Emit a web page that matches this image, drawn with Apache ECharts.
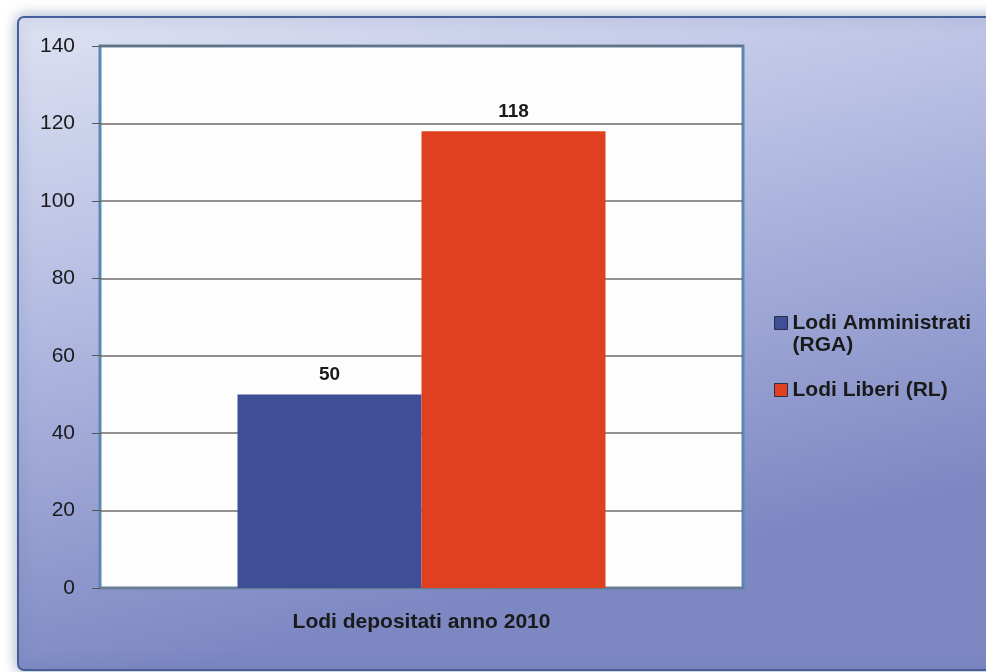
<!DOCTYPE html>
<html>
<head>
<meta charset="utf-8">
<script src="https://cdn.jsdelivr.net/npm/echarts@6/dist/echarts.min.js"></script>
<style>
  html, body { margin: 0; padding: 0; background: #fff; }
  #main { width: 986px; height: 672px; }
</style>
</head>
<body>
<div id="main"></div>
<script>
var categories = ["Lodi depositati anno 2010"];
var seriesNames = ["Lodi Amministrati (RGA)", "Lodi Liberi (RL)"];
var rgaValues = [50];
var rlValues = [118];

var chart = echarts.init(document.getElementById("main"));

var font = "Liberation Sans, Arial";

chart.setOption({
  animation: false,
  graphic: [
    {
      type: "rect",
      z: -10,
      shape: { x: 18, y: 17, width: 990, height: 653, r: 6 },
      style: {
        fill: new echarts.graphic.LinearGradient(0, 0, 0.15, 1, [
          { offset: 0, color: "#dfe2f3" },
          { offset: 0.45, color: "#b3bbe1" },
          { offset: 1, color: "#7d88c3" }
        ]),
        stroke: "#465f98",
        lineWidth: 2,
        shadowBlur: 14,
        shadowColor: "rgba(60,90,140,0.5)"
      }
    }
  ],
  legend: {
    orient: "vertical",
    left: 774,
    top: 290,
    padding: 0,
    itemWidth: 13,
    itemHeight: 13,
    itemGap: 23,
    icon: "rect",
    itemStyle: { borderColor: "#2b2d45", borderWidth: 1 },
    data: seriesNames,
    formatter: function (name) {
      // blank first line so the marker sits next to the first text line
      return name.indexOf(" (RGA)") > 0 ? "\u00a0\n" + name.replace(" (RGA)", "\n(RGA)") : name;
    },
    textStyle: {
      fontFamily: font,
      fontWeight: "bold",
      fontSize: 21,
      color: "#1a1a1a",
      lineHeight: 22
    }
  },
  grid: {
    left: 100,
    top: 46,
    right: 243,
    bottom: 84,
    show: true,
    backgroundColor: "#fdfdfd",
    borderColor: "#5b87b3",
    borderWidth: 3
  },
  xAxis: {
    type: "category",
    data: categories,
    axisLine: { show: true, lineStyle: { color: "#6f7a8a", width: 2 } },
    axisTick: { show: false },
    axisLabel: {
      margin: 24,
      fontFamily: font,
      fontWeight: "bold",
      fontSize: 21,
      color: "#1a1a1a"
    }
  },
  yAxis: {
    type: "value",
    min: 0,
    max: 140,
    interval: 20,
    axisLine: { show: false },
    axisTick: { show: true, length: 8, lineStyle: { color: "#555" } },
    splitLine: { lineStyle: { color: "#6e6a6a", width: 1.5 } },
    axisLabel: {
      margin: 25,
      fontFamily: font,
      fontSize: 21,
      color: "#1a1a1a"
    }
  },
  series: [
    {
      name: seriesNames[0],
      type: "bar",
      data: rgaValues,
      barWidth: 184,
      barGap: "0%",
      itemStyle: { color: "#3e4f98" },
      label: {
        show: true,
        position: "top",
        distance: 10,
        fontFamily: font,
        fontWeight: "bold",
        fontSize: 19,
        color: "#1a1a1a"
      }
    },
    {
      name: seriesNames[1],
      type: "bar",
      data: rlValues,
      barWidth: 184,
      barGap: "0%",
      itemStyle: { color: "#e0401f" },
      label: {
        show: true,
        position: "top",
        distance: 10,
        fontFamily: font,
        fontWeight: "bold",
        fontSize: 19,
        color: "#1a1a1a"
      }
    }
  ]
});
</script>
</body>
</html>
